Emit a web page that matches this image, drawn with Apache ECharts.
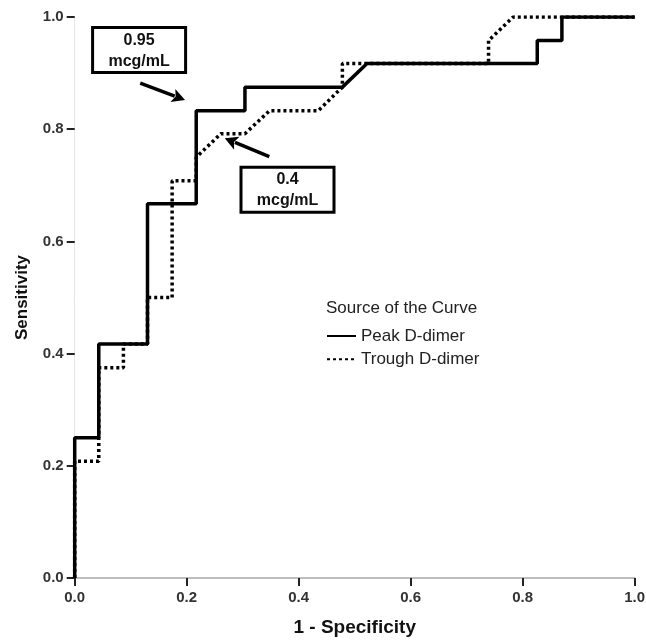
<!DOCTYPE html>
<html><head><meta charset="utf-8">
<script src="https://cdn.jsdelivr.net/npm/echarts@6/dist/echarts.min.js"></script>
<style>html,body{margin:0;padding:0;background:#fff}#c{width:646px;height:640px}</style>
</head><body><div id="c"></div>
<script>
// ROC data (1 - specificity, sensitivity)
const peakFpr  = [0, 0, 0.043, 0.043, 0.130, 0.130, 0.217, 0.217, 0.304, 0.304, 0.478, 0.522, 0.826, 0.826, 0.870, 0.870, 1.0];
const peakTpr  = [0, 0.250, 0.250, 0.417, 0.417, 0.667, 0.667, 0.833, 0.833, 0.875, 0.875, 0.917, 0.917, 0.958, 0.958, 1.0, 1.0];
const troughFpr = [0, 0, 0.043, 0.043, 0.087, 0.087, 0.130, 0.130, 0.174, 0.174, 0.217, 0.217, 0.261, 0.304, 0.348, 0.435, 0.478, 0.478, 0.522, 0.739, 0.739, 0.783, 1.0];
const troughTpr = [0, 0.208, 0.208, 0.375, 0.375, 0.417, 0.417, 0.500, 0.500, 0.708, 0.708, 0.750, 0.792, 0.792, 0.833, 0.833, 0.875, 0.917, 0.917, 0.917, 0.958, 1.0, 1.0];
const seriesNames = ['Peak D-dimer', 'Trough D-dimer'];
const legendTitle = 'Source of the Curve';
const xTitle = '1 - Specificity';
const yTitle = 'Sensitivity';
// annotations
const annoText = [['0.95', 'mcg/mL'], ['0.4', 'mcg/mL']];
const annoBox = [[0.115, 0.941], [0.380, 0.692]];
const annoArrowFrom = [[0.117, 0.882], [0.3475, 0.751]];
const annoArrowTo = [[0.197, 0.852], [0.268, 0.784]];

const zip = (a, b) => a.map((v, i) => [v, b[i]]);
const chart = echarts.init(document.getElementById('c'), null, {renderer: 'canvas'});
const FONT = 'Liberation Sans, Arial, sans-serif';
chart.setOption({
  animation: false,
  backgroundColor: '#fff',
  title: {
    text: legendTitle, left: 326, top: 299.5,
    padding: 0,
    textStyle: {fontFamily: FONT, fontSize: 17, fontWeight: 'normal', color: '#222'}
  },
  legend: {
    orient: 'vertical', left: 326, top: 327.5, padding: 0,
    itemWidth: 29, itemHeight: 14, itemGap: 6.3,
    data: seriesNames,
    itemStyle: {opacity: 0},
    textStyle: {fontFamily: FONT, fontSize: 17, color: '#222', lineHeight: 17}
  },
  grid: {left: 74.7, right: 11.3, top: 17, bottom: 62, containLabel: false, outerBoundsMode: 'none'},
  xAxis: {
    type: 'value', min: 0, max: 1, interval: 0.2,
    name: xTitle, nameLocation: 'middle', nameGap: 40,
    nameTextStyle: {fontFamily: FONT, fontSize: 19, fontWeight: 'bold', color: '#111'},
    axisLine: {show: true, lineStyle: {color: '#bdbdbd', width: 2}},
    axisTick: {show: true, length: 8, lineStyle: {color: '#222', width: 2}},
    axisLabel: {fontFamily: FONT, fontSize: 15, fontWeight: 'bold', color: '#333', margin: 12,
      formatter: v => v.toFixed(1)},
    splitLine: {show: false}
  },
  yAxis: {
    type: 'value', min: 0, max: 1, interval: 0.2,
    name: yTitle, nameLocation: 'middle', nameGap: 44, nameRotate: 90,
    nameTextStyle: {fontFamily: FONT, fontSize: 17, fontWeight: 'bold', color: '#111'},
    axisLine: {show: true, lineStyle: {color: '#e6e6e6', width: 1}},
    axisTick: {show: true, length: 8, lineStyle: {color: '#222', width: 2}},
    axisLabel: {fontFamily: FONT, fontSize: 15, fontWeight: 'bold', color: '#333', margin: 11,
      formatter: v => v.toFixed(1)},
    splitLine: {show: false}
  },
  series: [
    {name: seriesNames[1], type: 'line', data: zip(troughFpr, troughTpr), symbol: 'none', z: 2,
      lineStyle: {color: '#000', width: 3.5, type: [3, 3], cap: 'butt'}, itemStyle: {color: '#000'}},
    {name: seriesNames[0], type: 'line', data: zip(peakFpr, peakTpr), symbol: 'none', z: 3,
      lineStyle: {color: '#000', width: 3.5, type: 'solid'}, itemStyle: {color: '#000'}}
  ]
});

function drawAnnotations() {
  const els = [];
  const AF = 'Liberation Sans, Arial, sans-serif';
  annoText.forEach((t, i) => {
    const c = chart.convertToPixel({gridIndex: 0}, annoBox[i]);
    const w = 93, h = 45;
    els.push({type: 'rect', z: 10, shape: {x: c[0] - w / 2, y: c[1] - h / 2, width: w, height: h},
      style: {fill: '#fff', stroke: '#000', lineWidth: 3}});
    els.push({type: 'text', z: 11, style: {text: t[0], x: c[0], y: c[1] - 10, align: 'center', verticalAlign: 'middle',
      font: 'bold 16px ' + AF, fill: '#111'}});
    els.push({type: 'text', z: 11, style: {text: t[1], x: c[0], y: c[1] + 11, align: 'center', verticalAlign: 'middle',
      font: 'bold 16px ' + AF, fill: '#111'}});
    const p0 = chart.convertToPixel({gridIndex: 0}, annoArrowFrom[i]);
    const p1 = chart.convertToPixel({gridIndex: 0}, annoArrowTo[i]);
    const dx = p1[0] - p0[0], dy = p1[1] - p0[1], L = Math.hypot(dx, dy);
    const ux = dx / L, uy = dy / L, hl = 13, hw = 7;
    const bx = p1[0] - ux * hl, by = p1[1] - uy * hl;
    els.push({type: 'line', z: 10, shape: {x1: p0[0], y1: p0[1], x2: bx + ux * 2, y2: by + uy * 2},
      style: {stroke: '#000', lineWidth: 3.5}});
    els.push({type: 'polygon', z: 10, shape: {points: [[p1[0], p1[1]], [bx - uy * hw, by + ux * hw], [bx + ux * 3, by + uy * 3], [bx + uy * hw, by - ux * hw]]},
      style: {fill: '#000'}});
  });
  chart.setOption({graphic: els});
}
drawAnnotations();
</script></body></html>
